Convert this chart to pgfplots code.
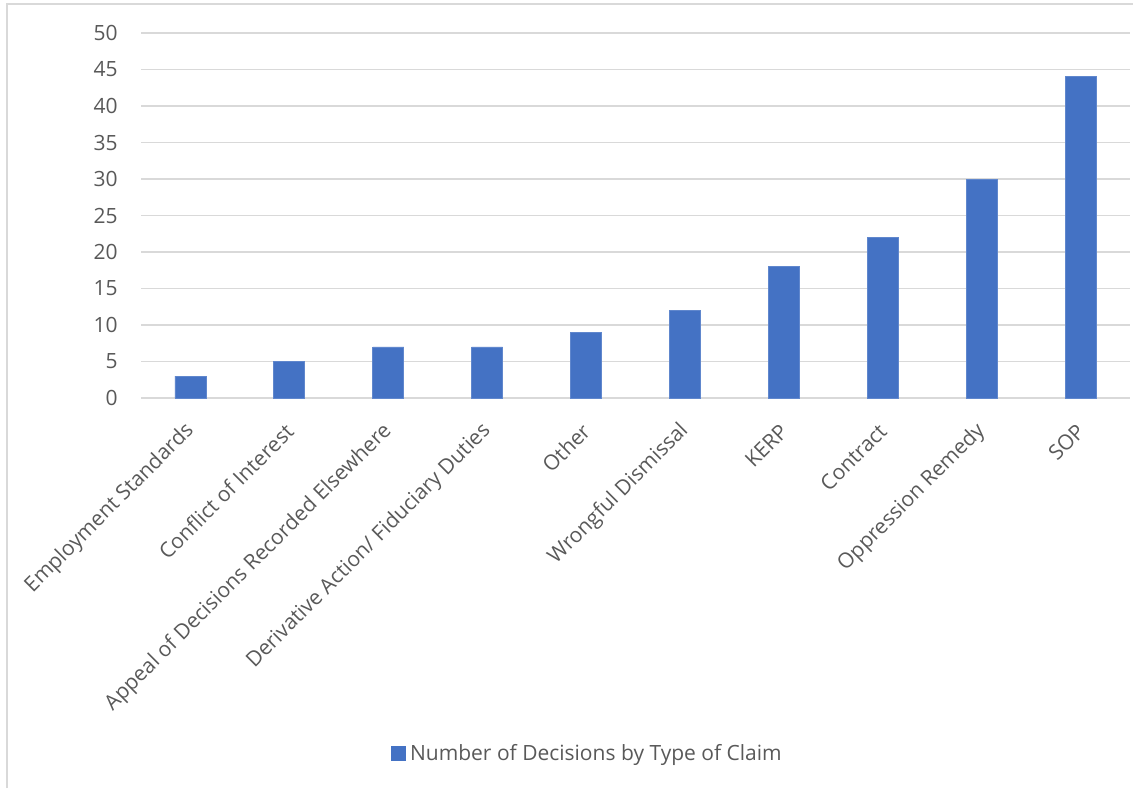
\documentclass[border=0pt]{standalone}
\usepackage{pgfplots}
\pgfplotsset{compat=1.18}
\usepackage{fontspec}
\setmainfont{Open Sans}
\definecolor{barblue}{HTML}{4472C4}
\definecolor{gridgray}{HTML}{D9D9D9}
\definecolor{textgray}{HTML}{595959}
\definecolor{framegray}{HTML}{D9D9D9}

\begin{document}
\begin{tikzpicture}[x=1pt,y=1pt]
\useasboundingbox (0,0) rectangle (572.5,394);
% chart frame (left and top edges)
\draw[framegray, line width=0.8pt] (3.5,0) -- (3.5,392) -- (566.5,392);
\begin{axis}[
  at={(70.5pt,195pt)}, anchor=south west,
  scale only axis,
  width=494.5pt, height=182.5pt,
  xmin=-0.5, xmax=9.5,
  ymin=0, ymax=50,
  ytick={0,5,...,50},
  xtick={0,...,9},
  xticklabels={Employment Standards, Conflict of Interest, Appeal of Decisions Recorded Elsewhere, Derivative Action/ Fiduciary Duties, Other, Wrongful Dismissal, KERP, Contract, Oppression Remedy, SOP},
  axis x line*=bottom,
  axis y line*=left,
  y axis line style={draw=none},
  x axis line style={gridgray, line width=0.8pt, -},
  ymajorgrids, major grid style={gridgray, line width=0.8pt},
  major tick length=0pt,
  tick label style={font=\fontsize{10.5}{12}\selectfont, text=textgray},
  /pgf/number format/assume math mode=true,
  yticklabel style={anchor=east, inner sep=0pt, xshift=-11.5pt},
  xticklabel style={rotate=45, anchor=east, inner sep=0pt, xshift=-10.3pt, yshift=-10.6pt},
  ybar, bar width=15.5pt,
  legend style={at={(0.4525,-0.975)}, anchor=center, draw=none, fill=none,
    font=\fontsize{10.5}{12}\selectfont, text=textgray,
    legend cell align=left, inner sep=0pt},
  legend image code/.code={\fill[barblue] (0pt,-3.5pt) rectangle (7pt,3.5pt);},
  clip=false,
]
\addplot[fill=barblue, draw=barblue!85!white, line width=0.4pt] coordinates {
  (0,3) (1,5) (2,7) (3,7) (4,9) (5,12) (6,18) (7,22) (8,30) (9,44)
};
\addlegendentry{Number of Decisions by Type of Claim}
\end{axis}
\end{tikzpicture}
\end{document}
